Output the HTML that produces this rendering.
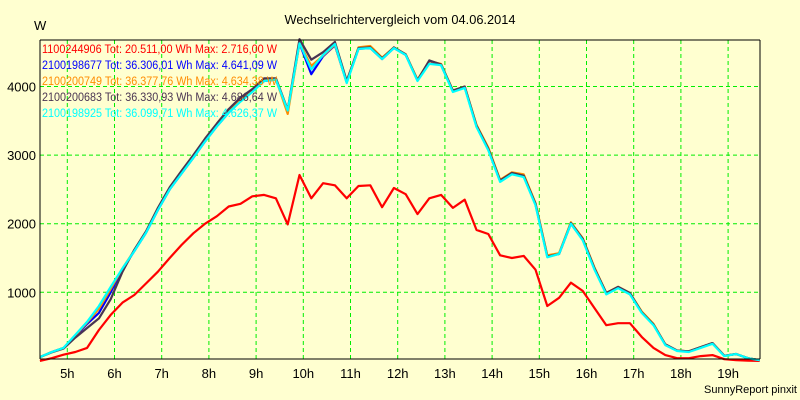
<!DOCTYPE html>
<html><head><meta charset="utf-8"><style>
html,body{margin:0;padding:0;background:#ffffd0;}
svg{display:block;font-family:"Liberation Sans",Arial,sans-serif;}
</style></head><body>
<svg id="chart" width="800" height="400">
<rect x="0" y="0" width="800" height="400" fill="#ffffd0"/>
<text x="400" y="24" font-size="12.8" text-anchor="middle" fill="#000">Wechselrichtervergleich vom 04.06.2014</text>
<text x="34" y="30" font-size="13" fill="#000">W</text>
<g id="grid"></g>
<g id="series"></g>
<line x1="40" y1="40" x2="40" y2="359" stroke="#000" stroke-width="1"/>
<line x1="40" y1="359" x2="760" y2="359" stroke="#000" stroke-width="1"/>
<line x1="40" y1="40" x2="760" y2="40" stroke="#000" stroke-width="1"/>
<line x1="760" y1="40" x2="760" y2="359" stroke="#000" stroke-width="1"/>
<g id="legend"></g>
<text x="797" y="393" font-size="11" text-anchor="end" fill="#000">SunnyReport pinxit</text>
</svg>
<script>
const times = [4.42,4.67,4.92,5.17,5.42,5.67,5.92,6.17,6.42,6.67,6.92,7.17,7.42,7.67,7.92,8.17,8.42,8.67,8.92,9.17,9.42,9.67,9.92,10.17,10.42,10.67,10.92,11.17,11.42,11.67,11.92,12.17,12.42,12.67,12.92,13.17,13.42,13.67,13.92,14.17,14.42,14.67,14.92,15.17,15.42,15.67,15.92,16.17,16.42,16.67,16.92,17.17,17.42,17.67,17.92,18.17,18.42,18.67,18.92,19.17,19.42,19.67];
const redValues = [0,40,90,130,190,450,670,850,960,1130,1300,1500,1690,1860,2000,2110,2250,2290,2400,2420,2370,1990,2710,2370,2590,2560,2370,2550,2560,2240,2520,2430,2140,2370,2420,2230,2350,1910,1850,1540,1500,1530,1330,800,920,1140,1020,770,520,550,550,350,190,85,40,40,70,85,25,10,5,0];
const blueValues = [55,130,190,360,540,700,1000,1340,1600,1870,2200,2500,2730,2960,3200,3420,3620,3790,3930,4080,4100,3650,4630,4180,4440,4600,4060,4550,4560,4400,4560,4460,4090,4370,4310,3930,3990,3420,3080,2620,2730,2690,2280,1530,1560,2000,1770,1340,980,1070,980,710,530,240,150,140,200,260,75,100,40,10];
const orangeValues = [55,130,190,370,560,760,1050,1350,1610,1880,2220,2520,2750,2980,3220,3440,3640,3810,3950,4110,4110,3600,4630,4300,4450,4610,4060,4570,4590,4420,4570,4470,4100,4370,4330,3940,4000,3440,3110,2640,2750,2720,2300,1540,1570,2020,1790,1360,990,1080,990,720,540,240,150,140,200,260,75,100,40,10];
const darkValues = [55,125,180,340,480,620,900,1300,1620,1890,2230,2530,2770,3000,3240,3460,3670,3840,3960,4120,4120,3660,4690,4390,4500,4650,4080,4560,4570,4410,4570,4470,4090,4380,4320,3940,4000,3430,3090,2630,2740,2700,2290,1520,1560,2010,1780,1350,990,1080,990,710,530,240,150,140,200,260,75,100,40,10];
const cyanValues = [55,130,190,380,570,800,1080,1350,1600,1870,2200,2500,2730,2960,3200,3420,3620,3780,3920,4080,4100,3650,4630,4250,4460,4620,4050,4550,4560,4400,4560,4460,4080,4330,4310,3920,3980,3410,3070,2610,2720,2680,2270,1510,1560,2000,1760,1330,970,1060,970,700,520,230,145,130,190,250,70,100,40,10];
const yTicks = [1000,2000,3000,4000];
const xTicks = [5,6,7,8,9,10,11,12,13,14,15,16,17,18,19];
const seriesNames = ["1100244906 Tot: 20.511,00 Wh Max: 2.716,00 W","2100198677 Tot: 36.306,01 Wh Max: 4.641,09 W","2100200749 Tot: 36.377,76 Wh Max: 4.634,38 W","2100200683 Tot: 36.330,93 Wh Max: 4.686,64 W","2100198925 Tot: 36.099,71 Wh Max: 4.626,37 W"];
const seriesColors = ["#ff0000","#0000ff","#ff8c00","#4a3552","#00ffff"];
const seriesData = [redValues, blueValues, orangeValues, darkValues, cyanValues];

const NS="http://www.w3.org/2000/svg";
function xs(t){return 67.3+(t-5)*47.2;}
function ys(v){return 360.9-v*0.0686;}
const grid=document.getElementById('grid');
const svg=document.getElementById('chart');
yTicks.forEach(v=>{
  const l=document.createElementNS(NS,'line');
  l.setAttribute('x1',40);l.setAttribute('x2',760);l.setAttribute('y1',ys(v));l.setAttribute('y2',ys(v));
  l.setAttribute('stroke','#00ee00');l.setAttribute('stroke-dasharray','4,3');
  
  
  grid.appendChild(l);
  const t=document.createElementNS(NS,'text');
  t.setAttribute('x',36);t.setAttribute('y',ys(v)+5);t.setAttribute('font-size','13');t.setAttribute('text-anchor','end');
  t.textContent=v;
  
  
  svg.appendChild(t);
});
xTicks.forEach(h=>{
  const l=document.createElementNS(NS,'line');
  l.setAttribute('x1',xs(h));l.setAttribute('x2',xs(h));l.setAttribute('y1',40);l.setAttribute('y2',359);
  l.setAttribute('stroke','#00ee00');l.setAttribute('stroke-dasharray','4,3');
  
  
  grid.appendChild(l);
  const t=document.createElementNS(NS,'text');
  t.setAttribute('x',xs(h));t.setAttribute('y',378);t.setAttribute('font-size','13');t.setAttribute('text-anchor','middle');
  t.textContent=h+'h';
  
  
  svg.appendChild(t);
});
const sg=document.getElementById('series');
seriesData.forEach((vals,i)=>{
  const p=document.createElementNS(NS,'polyline');
  p.setAttribute('points',vals.map((v,k)=>xs(times[k]).toFixed(1)+','+ys(v).toFixed(1)).join(' '));
  p.setAttribute('fill','none');p.setAttribute('stroke',seriesColors[i]);p.setAttribute('stroke-width','2.2');
  p.setAttribute('stroke-linejoin','round');
  
  
  sg.appendChild(p);
});
const lg=document.getElementById('legend');
seriesNames.forEach((n,i)=>{
  const t=document.createElementNS(NS,'text');
  t.setAttribute('x',42);t.setAttribute('y',53+i*16);t.setAttribute('font-size','11.5');t.setAttribute('fill',seriesColors[i]);
  t.setAttribute('textLength','235');t.setAttribute('lengthAdjust','spacingAndGlyphs');
  t.textContent=n;
  
  
  lg.appendChild(t);
});
</script>
</body></html>
